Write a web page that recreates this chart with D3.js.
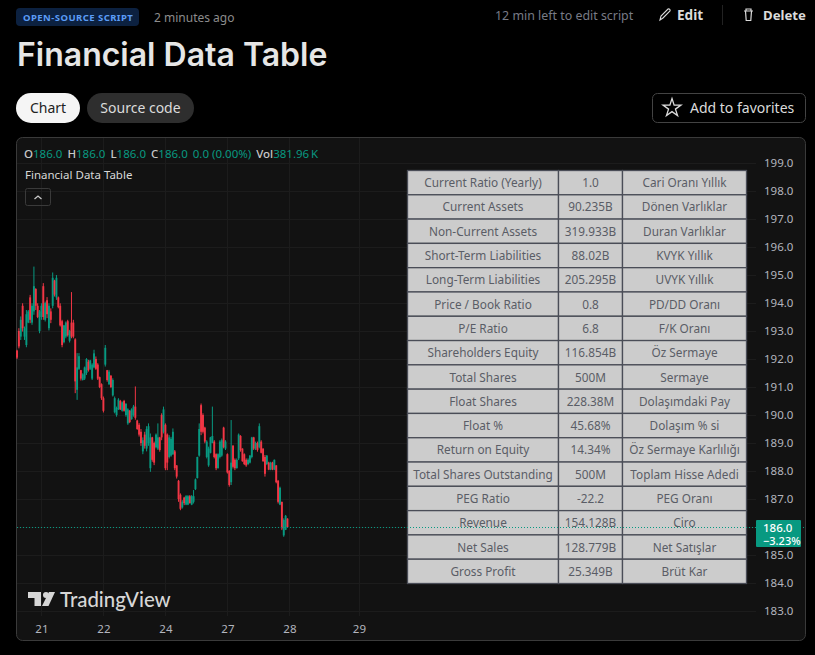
<!DOCTYPE html>
<html>
<head>
<meta charset="utf-8">
<script src="https://cdn.jsdelivr.net/npm/d3@7"></script>
<style>
  html, body { margin: 0; padding: 0; background: #000; overflow: hidden; }
  svg { display: block; }
  text { font-family: "Noto Sans", sans-serif; }
</style>
</head>
<body>
<svg id="chart" width="815" height="655"></svg>
<script>
const highs = [
  192.33,193.10,193.52,193.99,193.16,193.75,193.75,194.29,193.99,195.30,
  194.53,193.99,193.75,193.99,194.71,194.05,194.21,193.99,193.81,195.09,
  194.83,195.00,194.23,193.99,193.40,193.22,193.34,193.40,193.04,194.39,
  193.40,192.74,192.21,192.21,191.61,191.49,191.73,192.03,191.97,191.97,
  191.85,192.33,192.09,191.85,191.37,191.13,190.66,192.50,191.61,191.61,
  191.43,191.31,190.66,190.30,190.60,190.54,190.48,190.54,190.42,190.24,
  190.18,190.24,190.36,191.02,189.83,189.71,189.50,189.20,189.40,189.60,
  189.70,189.34,189.22,189.05,189.34,189.70,189.22,190.06,190.30,189.70,
  189.34,189.28,189.22,189.52,188.75,188.21,187.68,187.20,186.96,187.08,
  187.14,187.14,187.14,187.14,187.32,187.73,188.51,189.70,190.41,190.06,
  189.58,189.10,188.87,189.22,190.30,189.10,188.63,188.63,189.10,189.16,
  189.58,189.10,188.63,188.03,189.82,188.93,188.45,188.45,189.34,189.28,
  188.81,188.63,188.45,188.45,188.57,189.22,189.22,189.05,189.05,189.70,
  189.10,188.81,188.57,188.57,188.33,188.33,188.33,188.41,188.21,187.68,
  187.44,186.90,186.31,186.43,186.31
];
const lows = [
  192.00,192.38,192.68,192.98,192.68,192.42,193.28,193.28,193.22,193.58,
  193.75,193.46,192.92,193.40,193.40,193.34,193.46,193.02,193.28,193.81,
  194.23,194.11,193.81,193.16,192.42,192.56,192.74,192.80,192.59,192.74,
  192.74,190.78,190.54,191.61,191.23,191.23,191.25,191.43,191.55,191.61,
  191.25,191.67,191.61,191.25,190.96,190.54,190.09,191.73,191.19,191.07,
  190.96,190.66,190.06,189.94,190.18,190.18,190.12,190.12,189.94,189.65,
  189.71,189.83,189.94,189.83,189.47,189.23,188.90,188.60,188.80,188.70,
  188.90,187.97,188.33,188.21,188.81,188.75,188.69,189.10,189.34,188.03,
  188.03,188.45,188.51,188.57,188.03,187.73,186.90,186.60,186.66,186.78,
  186.78,186.78,186.84,186.78,186.84,187.32,187.73,188.51,189.28,189.34,
  188.99,188.45,188.15,188.63,188.99,188.45,188.03,188.09,188.45,188.51,
  188.81,188.75,187.91,187.44,187.50,188.09,188.03,188.09,188.39,188.69,
  188.33,188.21,188.15,188.21,188.27,188.45,188.75,188.75,188.69,188.81,
  188.63,188.33,187.80,188.21,188.03,188.03,188.03,188.03,187.56,186.84,
  186.78,185.89,185.65,185.89,186.01
];
const opens = [
  192.30,193.00,192.80,193.90,192.80,192.50,193.30,194.20,193.30,193.70,
  194.50,193.90,193.00,193.50,194.60,193.40,194.10,193.10,193.70,193.90,
  194.80,194.20,194.20,193.90,193.35,192.60,192.80,193.35,192.65,193.30,
  193.30,192.70,190.90,191.65,191.60,191.25,191.30,191.50,191.90,191.65,
  191.30,191.70,192.00,191.80,191.35,191.10,190.60,191.80,191.60,191.10,
  191.40,190.70,190.10,190.00,190.20,190.50,190.15,190.50,190.00,189.70,
  190.15,189.85,190.00,190.30,189.80,189.65,189.40,188.70,189.30,188.80,
  189.00,188.10,189.20,189.00,188.85,188.80,189.20,190.00,189.40,189.65,
  189.30,188.50,188.55,188.60,188.70,188.20,187.65,187.15,186.70,187.05,
  186.80,186.80,187.10,186.80,186.90,187.35,187.75,188.55,190.35,190.00,
  189.55,188.50,188.20,188.65,189.00,189.05,188.60,188.10,188.50,188.55,
  189.55,188.80,188.60,188.00,187.60,188.90,188.40,188.10,188.45,189.25,
  188.80,188.60,188.40,188.25,188.30,188.50,189.20,188.80,189.00,188.85,
  189.05,188.80,188.50,188.25,188.30,188.05,188.30,188.05,188.20,187.65,
  186.80,186.90,185.70,185.90,186.30
];
const closes = [
  192.05,192.45,193.40,193.10,193.10,193.60,193.70,193.40,193.90,194.60,
  193.90,193.50,193.70,193.90,193.50,194.00,193.60,193.90,193.40,194.90,
  194.30,194.90,193.85,193.20,192.50,193.20,193.30,192.85,193.00,192.80,
  192.80,191.20,191.70,192.10,191.30,191.45,191.70,192.00,191.60,191.95,
  191.80,192.20,191.65,191.30,191.00,190.60,190.15,192.40,191.25,191.55,
  191.00,191.25,190.60,190.25,190.55,190.20,190.45,190.15,190.40,190.20,
  189.75,190.20,190.30,189.90,189.50,189.30,189.00,189.10,188.90,189.50,
  189.60,189.20,188.40,188.30,189.30,189.20,188.75,189.20,190.20,188.10,
  188.30,189.20,189.15,189.40,188.10,187.80,187.00,186.65,186.90,186.85,
  187.10,187.10,186.85,187.10,187.10,187.70,188.50,189.50,189.40,189.40,
  189.05,189.05,188.80,189.20,189.25,188.50,188.10,188.60,189.05,189.10,
  188.85,189.05,187.95,187.50,188.30,188.15,188.10,188.40,189.30,188.75,
  188.35,188.25,188.20,188.40,188.55,189.20,188.80,189.00,188.75,189.60,
  188.65,188.35,187.90,188.55,188.05,188.30,188.05,188.40,187.60,186.90,
  187.40,185.95,186.25,186.40,186.00
];

const dayLabels = ["21", "22", "24", "27", "28", "29"];
const dayBars = [13, 46, 79, 112, 145, 182];
const priceTicks = d3.range(183, 200);
const lastPrice = 186.0;
const lastChange = "\u22123.23%";

const legendParts = [
  ["O", "186.0"], ["H", "186.0"], ["L", "186.0"], ["C", "186.0"]
];
const legendChange = "0.0 (0.00%)";
const legendVol = "381.96\u2009K";

const tableLeft = ["Current Ratio (Yearly)", "Current Assets", "Non-Current Assets", "Short-Term Liabilities", "Long-Term Liabilities", "Price / Book Ratio", "P/E Ratio", "Shareholders Equity", "Total Shares", "Float Shares", "Float %", "Return on Equity", "Total Shares Outstanding", "PEG Ratio", "Revenue", "Net Sales", "Gross Profit"];
const tableMid = ["1.0", "90.235B", "319.933B", "88.02B", "205.295B", "0.8", "6.8", "116.854B", "500M", "228.38M", "45.68%", "14.34%", "500M", "-22.2", "154.128B", "128.779B", "25.349B"];
const tableRight = ["Cari Oranı Yıllık", "Dönen Varlıklar", "Duran Varlıklar", "KVYK Yıllık", "UVYK Yıllık", "PD/DD Oranı", "F/K Oranı", "Öz Sermaye", "Sermaye", "Dolaşımdaki Pay", "Dolaşım % si", "Öz Sermaye Karlılığı", "Toplam Hisse Adedi", "PEG Oranı", "Ciro", "Net Satışlar", "Brüt Kar"];

const upColor = "#089981";
const downColor = "#f23645";
const gridColor = "#1c1c1c";
const axisText = "#b2b5be";

const svg = d3.select("#chart");

function label(g, x, y, str, size, fill, opts) {
  opts = opts || {};
  return g.append("text")
    .attr("x", x)
    .attr("y", y)
    .attr("font-size", size)
    .attr("fill", fill)
    .attr("font-weight", opts.weight || 400)
    .attr("text-anchor", opts.anchor || "start")
    .attr("dominant-baseline", "central")
    .attr("letter-spacing", opts.spacing || null)
    .style("font-family", opts.family || null)
    .text(str);
}

// page header
const head = svg.append("g");
head.append("rect").attr("x", 16).attr("y", 8).attr("width", 123).attr("height", 18).attr("rx", 4).attr("fill", "#0c2140");
label(head, 23, 17.5, "OPEN-SOURCE SCRIPT", 9.5, "#5b9cf6", { weight: 700, spacing: 0.45 });
label(head, 154, 17, "2 minutes ago", 12, "#8c8c8c");
label(head, 495, 15, "12 min left to edit script", 12.4, "#787b86");
label(head, 677, 14.5, "Edit", 13.6, "#dbdbdb", { weight: 700 });
label(head, 763, 14.5, "Delete", 13.2, "#dbdbdb", { weight: 700 });
head.append("path").attr("d", "M660 20l1-4 7-7a1.5 1.5 0 0 1 2 2l-7 7z").attr("fill", "none").attr("stroke", "#dbdbdb").attr("stroke-width", 1.1);
head.append("line").attr("x1", 722.5).attr("x2", 722.5).attr("y1", 5).attr("y2", 25).attr("stroke", "#222");
head.append("path").attr("d", "M744 11h9M746 11v-2h5v2M745.5 11l.7 9.5h4.6l.7-9.5").attr("fill", "none").attr("stroke", "#dbdbdb").attr("stroke-width", 1.2);
label(head, 17, 54, "Financial Data Table", 32, "#e6e6e6", { weight: 600, family: "Inter" });

head.append("rect").attr("x", 16).attr("y", 93).attr("width", 64).attr("height", 30).attr("rx", 15).attr("fill", "#f5f5f5");
label(head, 48, 107, "Chart", 14, "#222", { anchor: "middle" });
head.append("rect").attr("x", 87).attr("y", 93).attr("width", 107).attr("height", 30).attr("rx", 15).attr("fill", "#2e2e2e");
label(head, 140.5, 107, "Source code", 14, "#dbdbdb", { anchor: "middle" });
head.append("rect").attr("x", 652.5).attr("y", 93.5).attr("width", 153).attr("height", 29).attr("rx", 5).attr("fill", "none").attr("stroke", "#434343");
head.append("path").attr("d", d3.symbol(d3.symbolStar, 100)()).attr("transform", "translate(672,108)").attr("fill", "none").attr("stroke", "#dbdbdb").attr("stroke-width", 1.3);
label(head, 690, 107, "Add to favorites", 14, "#dbdbdb");

// chart pane
svg.append("rect").attr("x", 16.5).attr("y", 137.5).attr("width", 789).attr("height", 503).attr("rx", 6).attr("fill", "#121212").attr("stroke", "#3a3a3a");

const x = d3.scaleLinear().domain([0, highs.length - 1]).range([17, 287.5]);
const y = d3.scaleLinear().domain([183, 199]).range([611, 163]);
const bars = d3.range(highs.length);

// grid
svg.append("g").selectAll("line").data(priceTicks).join("line")
  .attr("x1", 17).attr("x2", 756)
  .attr("y1", d => Math.round(y(d)) + 0.5).attr("y2", d => Math.round(y(d)) + 0.5)
  .attr("stroke", gridColor);
svg.append("g").selectAll("line").data(dayBars).join("line")
  .attr("x1", d => Math.round(x(d)) + 0.5).attr("x2", d => Math.round(x(d)) + 0.5)
  .attr("y1", 138).attr("y2", 616)
  .attr("stroke", gridColor);

// candles
const candles = svg.append("g");
candles.selectAll("line").data(bars).join("line")
  .attr("x1", i => x(i)).attr("x2", i => x(i))
  .attr("y1", i => y(highs[i])).attr("y2", i => y(lows[i]))
  .attr("stroke", i => closes[i] >= opens[i] ? upColor : downColor)
  .attr("stroke-width", 1);
candles.selectAll("rect").data(bars).join("rect")
  .attr("x", i => x(i) - 0.95)
  .attr("width", 1.9)
  .attr("y", i => y(Math.max(opens[i], closes[i])))
  .attr("height", i => Math.max(1, Math.abs(y(opens[i]) - y(closes[i]))))
  .attr("fill", i => closes[i] >= opens[i] ? upColor : downColor);

// axes, the last price label sits under its tag so it gets no tick text
const yAxis = svg.append("g")
  .attr("transform", "translate(756,0)")
  .call(d3.axisRight(y).tickValues(priceTicks.filter(d => d !== lastPrice)).tickFormat(d3.format(".1f")).tickSize(0).tickPadding(8));
const xAxis = svg.append("g")
  .attr("transform", "translate(0,617)")
  .call(d3.axisBottom(x).tickValues(dayBars).tickFormat((d, i) => dayLabels[i]).tickSize(0).tickPadding(8));
[yAxis, xAxis].forEach(a => {
  a.select(".domain").remove();
  a.selectAll("text").attr("fill", axisText).attr("font-size", 11.5).style("font-family", '"Noto Sans", sans-serif');
});

// legend
const legend = svg.append("g");
let lx = 24;
const legendY = 153;
function legendText(str, fill, weight) {
  const t = label(legend, lx, legendY, str, 11.5, fill, { weight: weight || 400 });
  lx += t.node().getComputedTextLength();
  return t;
}
legendParts.forEach(p => {
  legendText(p[0], "#c8c8c8", 500);
  legendText(p[1], upColor);
  lx += 5;
});
legendText(legendChange, upColor);
lx += 5;
legendText("Vol", "#c8c8c8", 500);
legendText(legendVol, upColor);
label(legend, 25, 174.5, "Financial Data Table", 11.5, "#d8d8d8");
legend.append("rect").attr("x", 25.5).attr("y", 188.5).attr("width", 25).attr("height", 17).attr("rx", 2).attr("fill", "none").attr("stroke", "#3a3a3a");
legend.append("path").attr("d", "M34.5 199l3.5-3 3.5 3").attr("fill", "none").attr("stroke", "#c8c8c8").attr("stroke-width", 1.3);

// table
const colX = [407.5, 558.5, 622.5, 746.5];
const rowY = d3.scaleLinear().domain([0, tableLeft.length]).range([170.5, 583.5]);
const table = svg.append("g");
const colCells = [tableLeft, tableMid, tableRight];
colCells.forEach((col, c) => {
  const cells = table.append("g").selectAll("g").data(col).join("g");
  cells.append("rect")
    .attr("x", colX[c]).attr("width", colX[c + 1] - colX[c])
    .attr("y", (d, i) => rowY(i)).attr("height", (d, i) => rowY(i + 1) - rowY(i))
    .attr("fill", "#cccccc").attr("stroke", "#4a4d57").attr("stroke-width", 1.3);
  cells.append("text")
    .attr("x", (colX[c] + colX[c + 1]) / 2)
    .attr("y", (d, i) => (rowY(i) + rowY(i + 1)) / 2 - 0.5)
    .attr("text-anchor", "middle").attr("dominant-baseline", "central")
    .attr("font-size", 11.8).attr("fill", "#5a5d66")
    .text(d => d);
});

// last price line and tag
svg.append("line")
  .attr("x1", 17).attr("x2", 805).attr("y1", Math.round(y(lastPrice)) + 0.5).attr("y2", Math.round(y(lastPrice)) + 0.5)
  .attr("stroke", upColor).attr("stroke-width", 1).attr("stroke-dasharray", "1 2");
const tag = svg.append("g");
tag.append("rect").attr("x", 756).attr("y", y(lastPrice) - 7).attr("width", 45).attr("height", 27).attr("rx", 1).attr("fill", upColor);
label(tag, 763, y(lastPrice) + 0.5, d3.format(".1f")(lastPrice), 11.5, "#fff", { weight: 500 });
label(tag, 763, y(lastPrice) + 13, lastChange, 11, "#fff", { weight: 500 });

// watermark
const mark = svg.append("g").attr("fill", "#d6d6d6");
mark.append("path").attr("d", "M28 592h13v14h-6.5v-8H28z");
mark.append("circle").attr("cx", 46).attr("cy", 595).attr("r", 3);
mark.append("path").attr("d", "M49 592h6l-6.5 14h-6.5z");
label(mark, 60, 598.5, "TradingView", 20.4, "#d6d6d6", { weight: 500, family: "Lato" });
</script>
</body>
</html>
